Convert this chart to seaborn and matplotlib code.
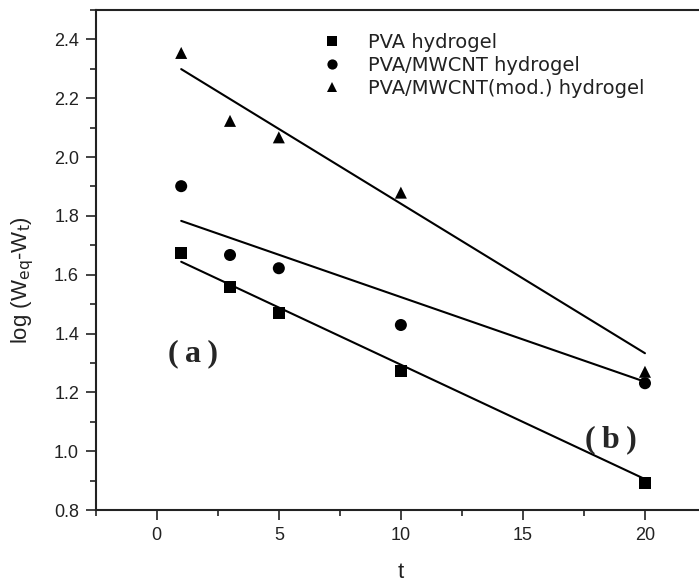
import numpy as np
import pandas as pd
import matplotlib
matplotlib.use("Agg")
import matplotlib.pyplot as plt
from matplotlib.ticker import MultipleLocator
import seaborn as sns

# данные
t = [1, 3, 5, 10, 20]
pva = [1.673, 1.559, 1.469, 1.272, 0.891]
pva_mwcnt = [1.901, 1.667, 1.622, 1.429, 1.231]
pva_mwcnt_mod = [2.354, 2.123, 2.067, 1.879, 1.270]

labels = ["PVA hydrogel", "PVA/MWCNT hydrogel", "PVA/MWCNT(mod.) hydrogel"]

# концы линий аппроксимации (t = 1 и t = 20)
fit_t = [1, 20]
fit_pva = [1.644, 0.905]
fit_pva_mwcnt = [1.783, 1.236]
fit_pva_mwcnt_mod = [2.299, 1.333]

points = pd.DataFrame({
    "t": t * 3,
    "y": pva + pva_mwcnt + pva_mwcnt_mod,
    "series": [labels[0]] * 5 + [labels[1]] * 5 + [labels[2]] * 5,
})
fits = pd.DataFrame({
    "t": fit_t * 3,
    "y": fit_pva + fit_pva_mwcnt + fit_pva_mwcnt_mod,
    "series": [labels[0]] * 2 + [labels[1]] * 2 + [labels[2]] * 2,
})

sns.set_style("ticks")
plt.rcParams["font.family"] = ["Liberation Sans", "DejaVu Sans"]

fig = plt.figure(figsize=(6.99, 5.84), dpi=100)
ax = fig.add_axes([0.137, 0.1267, 0.873, 0.8562])

sns.lineplot(data=fits, x="t", y="y", units="series", estimator=None,
             color="black", lw=1.5, legend=False, ax=ax)
sns.scatterplot(data=points, x="t", y="y", style="series", hue="series",
                palette=["black"] * 3, markers=["s", "o", "^"],
                s=75, edgecolor="black", linewidth=0, ax=ax)

ax.set_xlim(-2.5, 22.5)
ax.set_ylim(0.8, 2.5)
ax.set_xticks([0, 5, 10, 15, 20])
ax.set_yticks([0.8, 1.0, 1.2, 1.4, 1.6, 1.8, 2.0, 2.2, 2.4])
ax.xaxis.set_minor_locator(MultipleLocator(2.5))
ax.yaxis.set_minor_locator(MultipleLocator(0.1))
ax.tick_params(which="major", length=7, width=1.2, labelsize=13, pad=5,
               color="#222222", labelcolor="#222222")
ax.tick_params(which="minor", length=4, width=1.2, color="#222222")

for side in ["left", "bottom", "top", "right"]:
    ax.spines[side].set_visible(True)
    ax.spines[side].set_linewidth(1.5)
    ax.spines[side].set_color("#222222")

ax.set_xlabel("t", fontsize=16, labelpad=13, color="#222222")
ax.set_ylabel(r"log (W$_{\mathrm{eq}}$-W$_{\mathrm{t}}$)", fontsize=16,
              color="#222222")
ax.yaxis.set_label_coords(-0.098, 0.46)

# легенда без рамки, шрифт пошире
leg = ax.legend(loc="upper left", bbox_to_anchor=(313 / 699, 1 - 33 / 584),
                bbox_transform=fig.transFigure, frameon=False,
                borderpad=0, borderaxespad=0,
                prop={"family": ["DejaVu Sans"], "size": 14},
                labelspacing=0.2, handlelength=2.0, handletextpad=0.85,
                markerscale=0.85)
for txt in leg.get_texts():
    txt.set_color("#222222")

ax.text(1.5, 1.33, "(\u2009a\u2009)", fontsize=23, fontweight="bold",
        family=["Liberation Serif", "DejaVu Serif"], ha="center", va="center")
ax.text(18.6, 1.04, "(\u2009b\u2009)", fontsize=23, fontweight="bold",
        family=["Liberation Serif", "DejaVu Serif"], ha="center", va="center")

fig.savefig("out.png", dpi=100)
